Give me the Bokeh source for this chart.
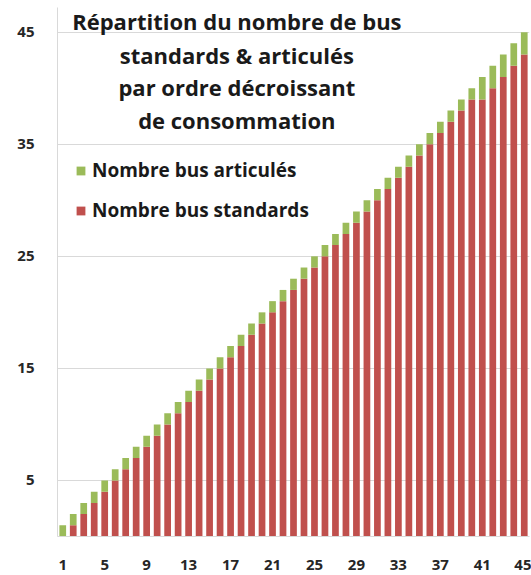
from bokeh.plotting import figure
from bokeh.models import Range1d, FixedTicker, Legend, LegendItem, Label, ColumnDataSource
from bokeh.embed import file_html
from bokeh.resources import INLINE

# --- data ---
rank = list(range(1, 46))
standards = [i - 1 for i in range(1, 41)] + [39, 40, 41, 42, 43]
articules = [1] * 40 + [2, 2, 2, 2, 2]
y_ticks = [5, 15, 25, 35, 45]
x_ticks = list(range(1, 46, 4))
title_lines = ["Répartition du nombre de bus", "standards & articulés",
               "par ordre décroissant", "de consommation"]

RED = "#C0504D"
GREEN = "#9BBB59"
FONT = "Open Sans"

src = ColumnDataSource(dict(rank=rank, standards=standards, articules=articules))

p = figure(width=531, height=574, output_backend="svg", toolbar_location=None,
           x_range=Range1d(0.5, 45.5), y_range=Range1d(0, 47.2),
           min_border_left=57, min_border_right=2, min_border_top=7, min_border_bottom=38)

r = p.vbar_stack(["standards", "articules"], x="rank", width=0.64, color=[RED, GREEN],
                 source=src, line_color=None)

p.outline_line_color = None
p.xgrid.visible = False
p.ygrid.ticker = FixedTicker(ticks=y_ticks)
p.ygrid.grid_line_color = "#d9d9d9"
p.ygrid.grid_line_width = 1

p.yaxis.ticker = FixedTicker(ticks=y_ticks)
p.xaxis.ticker = FixedTicker(ticks=x_ticks)
for ax in (p.xaxis[0], p.yaxis[0]):
    ax.axis_line_color = "#d9d9d9"
    ax.major_tick_line_color = None
    ax.minor_tick_line_color = None
    ax.major_label_text_font = FONT
    ax.major_label_text_font_style = "bold"
    ax.major_label_text_font_size = "15px"
    ax.major_label_text_color = "#262626"
p.xaxis.major_label_standoff = 17
p.yaxis.major_label_standoff = 17

# title lines inside plot
ys = [46.0, 43.0, 40.1, 37.2]
for t, yy in zip(title_lines, ys):
    p.add_layout(Label(x=17.6, y=yy, text=t, text_align="center", text_baseline="middle",
                       text_font=FONT, text_font_style="bold", text_font_size="22px",
                       text_color="#1a1a1a"))

legend = Legend(items=[LegendItem(label="Nombre bus articulés", renderers=[r[1]]),
                       LegendItem(label="Nombre bus standards", renderers=[r[0]])],
                location=(18, 313), orientation="vertical")
legend.border_line_color = None
legend.background_fill_alpha = 0
legend.padding = 0
legend.margin = 0
legend.glyph_width = 11
legend.glyph_height = 11
legend.label_height = 20
legend.label_standoff = 6
legend.spacing = 14
legend.label_text_font = FONT
legend.label_text_font_style = "bold"
legend.label_text_font_size = "19px"
legend.label_text_color = "#1a1a1a"
p.add_layout(legend)

open("out.html", "w").write(file_html(p, INLINE))
